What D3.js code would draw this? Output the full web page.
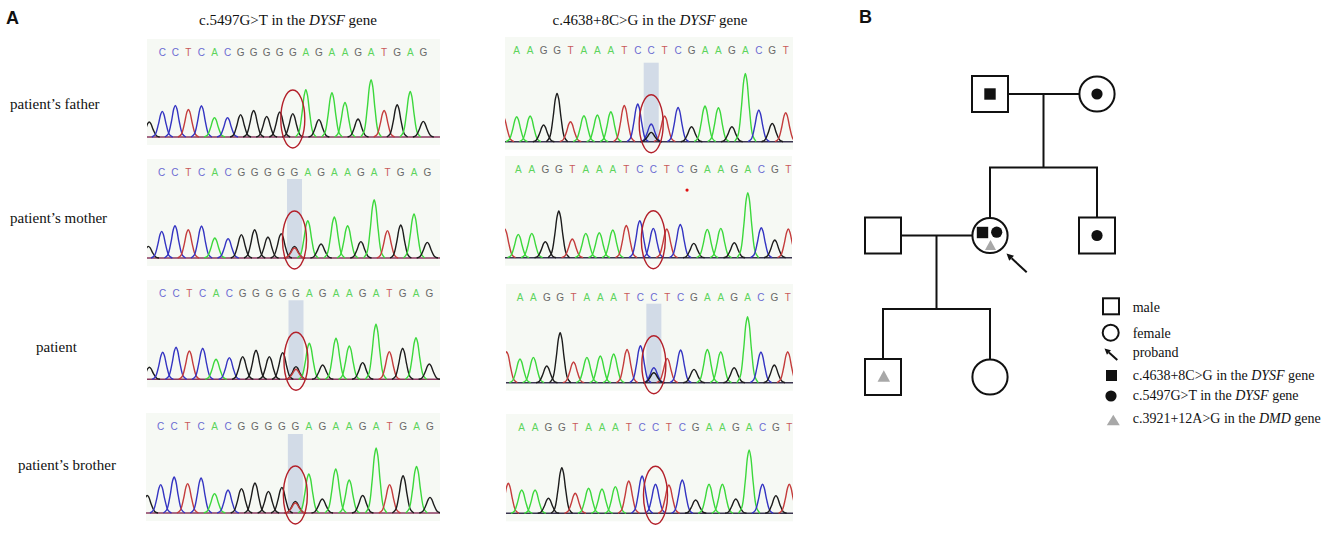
<!DOCTYPE html>
<html>
<head>
<meta charset="utf-8">
<script src="https://cdn.jsdelivr.net/npm/d3@7"></script>
<style>
  body { margin: 0; background: #fff; }
  svg { display: block; }
  .serif { font-family: "Liberation Serif", "Times New Roman", serif; fill: #111; }
  .panel-letter { font-family: "Liberation Sans", Arial, sans-serif; font-size: 10px; }
  .tag { font-family: "Liberation Sans", Arial, sans-serif; font-weight: bold; font-size: 18px; fill: #111; }
</style>
</head>
<body>
<svg id="fig" width="1325" height="533"></svg>
<script>
// ---- dati ----
// sequenze chiamate (21 basi per pannello)
const leftCalls = 'CCTCACGGGGGAGAAGATGAG'.split('');
const rightCalls = 'AAGGTAAATCCTCGAAGACGT'.split('');
// picco parziale sul bordo sinistro (senza lettera)
const leftLead = 'G';
const rightLead = 'T';

const rowLabels = ['patient\u2019s father', 'patient\u2019s mother', 'patient', 'patient\u2019s brother'];
const colTitles = [
  { pre: 'c.5497G>T in the ', gene: 'DYSF', post: ' gene' },
  { pre: 'c.4638+8C>G in the ', gene: 'DYSF', post: ' gene' }
];

// altezze dei picchi (unita di segnale); primo valore = picco parziale
const leftFather  = [45, 77, 95, 83, 94, 58, 58, 67, 80, 62, 75, 70, 142, 52, 133, 104, 54, 172, 80, 97, 137, 47];
const leftMother  = [35, 80, 97, 85, 96, 60, 58, 70, 85, 63, 73, 35, 112, 42, 123, 97, 49, 175, 82, 99, 132, 47];
const leftPatient = [36, 81, 96, 85, 93, 60, 65, 68, 87, 68, 80, 38, 108, 43, 123, 100, 50, 165, 83, 93, 125, 46];
const leftBrother = [53, 85, 108, 88, 105, 58, 69, 73, 90, 65, 77, 35, 117, 42, 132, 99, 53, 195, 85, 112, 140, 47];

const rightFather  = [75, 75, 77, 50, 145, 60, 78, 80, 90, 109, 113, 53, 77, 103, 45, 107, 102, 45, 205, 95, 55, 87];
const rightMother  = [86, 70, 73, 48, 140, 56, 73, 75, 83, 97, 111, 88, 86, 100, 43, 85, 88, 45, 195, 90, 53, 86];
const rightPatient = [93, 71, 76, 50, 150, 62, 76, 80, 86, 100, 111, 45, 73, 98, 40, 100, 93, 45, 198, 92, 53, 93];
const rightBrother = [90, 70, 70, 45, 137, 60, 75, 73, 80, 97, 112, 87, 85, 100, 40, 87, 87, 43, 190, 87, 53, 87];

// secondo picco (eterozigote) sul sito della variante
const leftSecond  = [null, { i: 10, base: 'T', h: 30 }, { i: 10, base: 'T', h: 30 }, { i: 10, base: 'T', h: 30 }];
const rightSecond = [{ i: 10, base: 'G', h: 28 }, null, { i: 10, base: 'G', h: 30 }, null];

// puntino rosso nel pannello della madre (destra)
const rightMotherDot = { i: 12.5, h: 203 };

// pedigree
const people = [
  { id: 'I-1',   sex: 'm', gen: 0, col: 1, marks: ['sq'] },
  { id: 'I-2',   sex: 'f', gen: 0, col: 2, marks: ['ci'] },
  { id: 'II-1',  sex: 'm', gen: 1, col: 0, marks: [] },
  { id: 'II-2',  sex: 'f', gen: 1, col: 1, marks: ['sq', 'ci', 'tri'], proband: true },
  { id: 'II-3',  sex: 'm', gen: 1, col: 2, marks: ['ci'] },
  { id: 'III-1', sex: 'm', gen: 2, col: 0, marks: ['tri'] },
  { id: 'III-2', sex: 'f', gen: 2, col: 1, marks: [] }
];
const couples = [
  { a: 'I-1', b: 'I-2', kids: ['II-2', 'II-3'] },
  { a: 'II-1', b: 'II-2', kids: ['III-1', 'III-2'] }
];

const legendItems = [
  { sym: 'male',   pre: 'male' },
  { sym: 'female', pre: 'female' },
  { sym: 'arrow',  pre: 'proband' },
  { sym: 'sq',  pre: 'c.4638+8C>G in the ', gene: 'DYSF', post: ' gene' },
  { sym: 'ci',  pre: 'c.5497G>T in the ', gene: 'DYSF', post: ' gene' },
  { sym: 'tri', pre: 'c.3921+12A>G in the ', gene: 'DMD', post: ' gene' }
];

// ---- stile ----
const traceColor = { A: '#3cd83c', C: '#3434c2', G: '#1c1c1c', T: '#c43c3c' };
const letterColor = { A: '#5cd45c', C: '#6b6bd2', G: '#686868', T: '#c85a5a' };
// forma del picco (gaussiana campionata, frazione dell'altezza)
const SHAPE = [[-0.8, 0], [-0.55, 0.09], [-0.3, 0.49], [-0.12, 0.89], [0, 1],
               [0.12, 0.89], [0.3, 0.49], [0.55, 0.09], [0.8, 0]];

const svg = d3.select('#fig');
const hScale = d3.scaleLinear().domain([0, 180]).range([0, 60]);
const peakLine = d3.line().x(d => d[0]).y(d => d[1]).curve(d3.curveCatmullRom);

// layout dei pannelli
const leftPanels = [
  { x0: 162.3, x1: 423.3, base: 137,   letters: 52,  hl: false, bx0: 147, bx1: 440 },
  { x0: 161.7, x1: 427.3, base: 258,   letters: 172, hl: true,  bx0: 147, bx1: 440 },
  { x0: 162.7, x1: 429.3, base: 379.3, letters: 293, hl: true,  bx0: 147, bx1: 440 },
  { x0: 160.7, x1: 430,   base: 513,   letters: 426, hl: true,  bx0: 146, bx1: 440 }
];
const rightPanels = [
  { x0: 516.7, x1: 785.7, base: 141.7, letters: 50,  hl: true,  bx0: 505, bx1: 793 },
  { x0: 518.3, x1: 788.3, base: 257.7, letters: 169, hl: false, bx0: 505, bx1: 792 },
  { x0: 520,   x1: 787.7, base: 382.7, letters: 297, hl: true,  bx0: 506, bx1: 793 },
  { x0: 521.7, x1: 789.3, base: 513.3, letters: 427, hl: false, bx0: 506, bx1: 793 }
];

let clipId = 0;
function drawPanel(p, calls, lead, heights, second, baseStroke, dot) {
  const g = svg.append('g');
  const x = d3.scaleLinear().domain([0, 20]).range([p.x0, p.x1]);
  const top = p.letters - 13, bottom = p.base + 8;

  g.append('rect')
    .attr('x', p.bx0).attr('y', top)
    .attr('width', p.bx1 - p.bx0).attr('height', bottom - top)
    .attr('fill', '#f6f9f4');

  const cid = 'clip' + (clipId++);
  g.append('clipPath').attr('id', cid)
    .append('rect')
    .attr('x', p.bx0).attr('y', top)
    .attr('width', p.bx1 - p.bx0).attr('height', bottom - top);

  const inner = g.append('g').attr('clip-path', `url(#${cid})`);

  if (p.hl) {
    inner.append('rect')
      .attr('x', x(10) - 7.5).attr('y', p.base - 79)
      .attr('width', 15).attr('height', 79)
      .attr('fill', '#d2dbe7');
  }

  // lettere
  g.selectAll('text.panel-letter')
    .data(calls)
    .join('text')
    .attr('class', 'panel-letter')
    .attr('x', (d, i) => x(i))
    .attr('y', p.letters + 3.6)
    .attr('text-anchor', 'middle')
    .attr('fill', d => letterColor[d])
    .text(d => d);

  // linea di base
  inner.append('line')
    .attr('x1', p.bx0).attr('x2', p.bx1)
    .attr('y1', p.base).attr('y2', p.base)
    .attr('stroke', baseStroke).attr('stroke-width', 1.6);

  const peaks = heights.map((h, k) => ({ i: k - 1, base: k === 0 ? lead : calls[k - 1], h }));
  if (second) peaks.push(second);

  inner.selectAll('path.peak')
    .data(peaks)
    .join('path')
    .attr('class', 'peak')
    .attr('fill', 'none')
    .attr('stroke', d => traceColor[d.base])
    .attr('stroke-width', 1.4)
    .attr('d', d => peakLine(SHAPE.map(([o, f]) => [x(d.i + o), p.base - hScale(d.h * f)])));

  if (dot) {
    g.append('circle')
      .attr('cx', x(dot.i)).attr('cy', p.base - hScale(dot.h))
      .attr('r', 1.6).attr('fill', '#e01010');
  }

  g.append('ellipse')
    .attr('cx', x(10)).attr('cy', p.base - 18)
    .attr('rx', 12).attr('ry', 29)
    .attr('fill', 'none')
    .attr('stroke', '#b3202a')
    .attr('stroke-width', 1.4);
}

const leftData = [leftFather, leftMother, leftPatient, leftBrother];
const rightData = [rightFather, rightMother, rightPatient, rightBrother];
leftPanels.forEach((p, r) => drawPanel(p, leftCalls, leftLead, leftData[r], leftSecond[r], '#8a3a60', null));
rightPanels.forEach((p, r) => drawPanel(p, rightCalls, rightLead, rightData[r], rightSecond[r], '#3a3550', r === 1 ? rightMotherDot : null));

// ---- testi pannello A ----
svg.append('text').attr('class', 'tag').attr('x', 6).attr('y', 24).text('A');
svg.append('text').attr('class', 'tag').attr('x', 859).attr('y', 23).text('B');

const titleX = [288, 650];
colTitles.forEach((t, i) => {
  const tx = svg.append('text')
    .attr('class', 'serif')
    .attr('x', titleX[i]).attr('y', 25)
    .attr('text-anchor', 'middle')
    .style('font-size', '15px');
  tx.append('tspan').text(t.pre);
  tx.append('tspan').style('font-style', 'italic').text(t.gene);
  tx.append('tspan').text(t.post);
});

const labelPos = [[10, 109], [10, 223], [36, 352], [18, 470]];
svg.selectAll('text.rowlab')
  .data(rowLabels)
  .join('text')
  .attr('class', 'serif rowlab')
  .attr('x', (d, i) => labelPos[i][0])
  .attr('y', (d, i) => labelPos[i][1])
  .style('font-size', '15px')
  .text(d => d);

// ---- pedigree (pannello B) ----
const px = d3.scaleLinear().domain([0, 2]).range([883, 1097]);
const py = d3.scaleLinear().domain([0, 2]).range([94, 377]);
const HALF = 18, R = 17.6;
const byId = new Map(people.map(d => [d.id, d]));
const ped = svg.append('g').attr('stroke', '#111').attr('stroke-width', 2).attr('fill', 'none');

function triPath(cx, cy, w, h) {
  return `M${cx},${cy - h / 2}L${cx + w / 2},${cy + h / 2}L${cx - w / 2},${cy + h / 2}Z`;
}
function arrow(g, x1, y1, x2, y2, head) {
  const a = Math.atan2(y2 - y1, x2 - x1);
  const bx = x2 - head * Math.cos(a), by = y2 - head * Math.sin(a);
  g.append('line').attr('x1', x1).attr('y1', y1).attr('x2', bx).attr('y2', by)
    .attr('stroke', '#111').attr('stroke-width', 2);
  const w = head * 0.5;
  g.append('path')
    .attr('d', `M${x2},${y2}L${bx + w * Math.sin(a)},${by - w * Math.cos(a)}L${bx - w * Math.sin(a)},${by + w * Math.cos(a)}Z`)
    .attr('fill', '#111').attr('stroke', 'none');
}

couples.forEach(c => {
  const a = byId.get(c.a), b = byId.get(c.b);
  const y = py(a.gen);
  const xa = px(a.col), xb = px(b.col);
  ped.append('line').attr('x1', xa + HALF).attr('x2', xb - R).attr('y1', y).attr('y2', y);
  const mid = (xa + xb) / 2;
  const sibY = y + 0.52 * (py(a.gen + 1) - y);
  ped.append('line').attr('x1', mid).attr('x2', mid).attr('y1', y).attr('y2', sibY);
  const kids = c.kids.map(k => byId.get(k));
  const kx = kids.map(k => px(k.col));
  ped.append('line').attr('x1', d3.min(kx) - 1).attr('x2', d3.max(kx) + 1).attr('y1', sibY).attr('y2', sibY);
  kids.forEach(k => {
    const top = py(k.gen) - (k.sex === 'm' ? HALF : R);
    ped.append('line').attr('x1', px(k.col)).attr('x2', px(k.col)).attr('y1', sibY).attr('y2', top);
  });
});

const markOffsets3 = { sq: [-7.5, -3], ci: [6.7, -3.3], tri: [0.5, 9.5] };
people.forEach(d => {
  const cx = px(d.col), cy = py(d.gen);
  if (d.sex === 'm') {
    ped.append('rect').attr('x', cx - HALF).attr('y', cy - HALF)
      .attr('width', 2 * HALF).attr('height', 2 * HALF).attr('fill', '#fff');
  } else {
    ped.append('circle').attr('cx', cx).attr('cy', cy).attr('r', R).attr('fill', '#fff');
  }
  d.marks.forEach(m => {
    const [ox, oy] = d.marks.length === 3 ? markOffsets3[m] : (m === 'tri' ? [0.8, -1] : [0, 0]);
    const mx = cx + ox, my = cy + oy;
    if (m === 'sq') {
      svg.append('rect').attr('x', mx - 5.7).attr('y', my - 5.7)
        .attr('width', 11.4).attr('height', 11.4).attr('fill', '#111');
    } else if (m === 'ci') {
      svg.append('circle').attr('cx', mx).attr('cy', my).attr('r', 5.6).attr('fill', '#111');
    } else {
      const w = d.marks.length === 3 ? 11 : 12.5;
      const h = d.marks.length === 3 ? 10 : 11.5;
      svg.append('path').attr('d', triPath(mx, my, w, h)).attr('fill', '#a8a8a8');
    }
  });
  if (d.proband) {
    arrow(svg, cx + 36.7, cy + 36.7, cx + 16.5, cy + 18, 7);
  }
});

// ---- legenda ----
const legY = [311.5, 337.5, 356.7, 380, 400, 423.3];
const symY = [306.3, 332.7, 354.5, 375.5, 396, 420];
const lg = svg.append('g');
legendItems.forEach((it, i) => {
  const sy = symY[i];
  if (it.sym === 'male') {
    lg.append('rect').attr('x', 1103).attr('y', sy - 8).attr('width', 16).attr('height', 16)
      .attr('fill', 'none').attr('stroke', '#111').attr('stroke-width', 2);
  } else if (it.sym === 'female') {
    lg.append('circle').attr('cx', 1110.7).attr('cy', sy).attr('r', 8)
      .attr('fill', 'none').attr('stroke', '#111').attr('stroke-width', 2);
  } else if (it.sym === 'arrow') {
    arrow(lg, 1117.3, 360, 1104.5, 348.5, 6);
  } else if (it.sym === 'sq') {
    lg.append('rect').attr('x', 1106).attr('y', sy - 5.5).attr('width', 11).attr('height', 11).attr('fill', '#111');
  } else if (it.sym === 'ci') {
    lg.append('circle').attr('cx', 1111).attr('cy', sy).attr('r', 5.6).attr('fill', '#111');
  } else {
    lg.append('path').attr('d', triPath(1113.3, sy, 13, 10.5)).attr('fill', '#a8a8a8');
  }
  const t = lg.append('text').attr('class', 'serif')
    .attr('x', 1132.7).attr('y', legY[i])
    .style('font-size', '14px');
  t.append('tspan').text(it.pre);
  if (it.gene) {
    t.append('tspan').style('font-style', 'italic').text(it.gene);
    t.append('tspan').text(it.post);
  }
});
</script>
</body>
</html>
